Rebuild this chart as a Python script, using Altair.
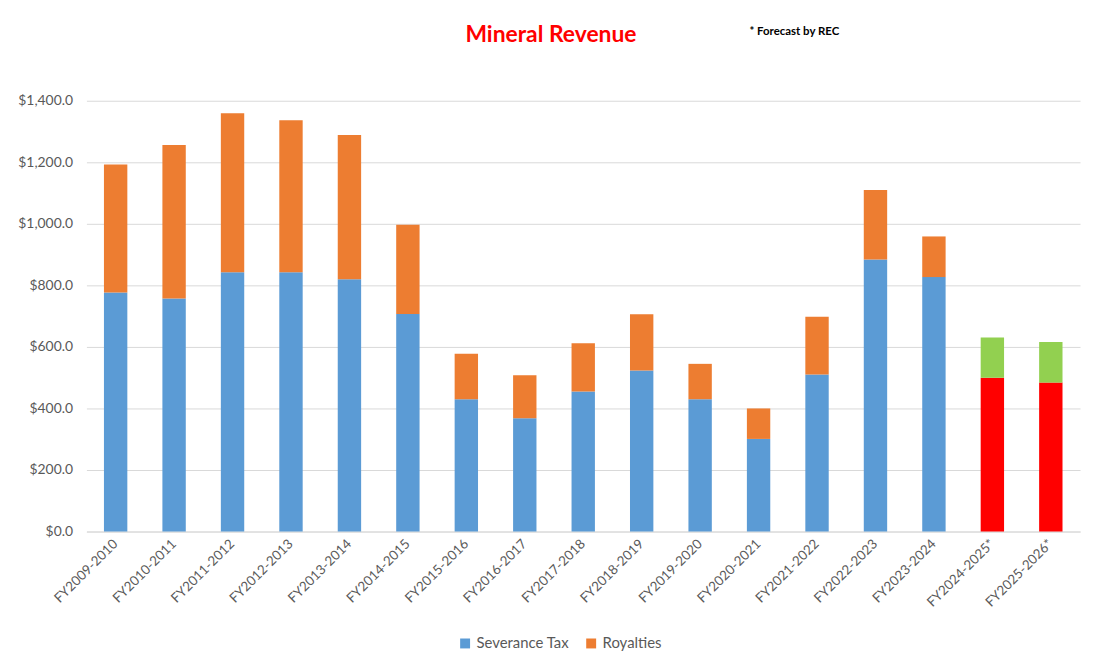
import altair as alt
import pandas as pd

years = ["FY2009-2010", "FY2010-2011", "FY2011-2012", "FY2012-2013", "FY2013-2014",
         "FY2014-2015", "FY2015-2016", "FY2016-2017", "FY2017-2018", "FY2018-2019",
         "FY2019-2020", "FY2020-2021", "FY2021-2022", "FY2022-2023", "FY2023-2024",
         "FY2024-2025*", "FY2025-2026*"]
severance = [777, 757, 843, 843, 820, 707, 430, 368, 455, 523, 430, 301, 510, 884, 827, 500, 484]
totals = [1193, 1256, 1359, 1337, 1289, 997, 578, 508, 612, 706, 545, 400, 698, 1110, 959, 631, 616]
forecast = [False] * 15 + [True, True]

series_names = ["Severance Tax", "Royalties", "Severance Forecast", "Royalties Forecast"]
series_colors = ["#5B9BD5", "#ED7D31", "#FF0000", "#92D050"]

rows = []
for y, s, t, f in zip(years, severance, totals, forecast):
    rows.append({"year": y, "series": "Severance Forecast" if f else "Severance Tax",
                 "value": s, "ord": 0})
    rows.append({"year": y, "series": "Royalties Forecast" if f else "Royalties",
                 "value": t - s, "ord": 1})
df = pd.DataFrame(rows)

FONT = "Lato"

bars = alt.Chart(df).mark_bar().encode(
    x=alt.X("year:N", sort=years, title=None,
            scale=alt.Scale(paddingInner=0.6, paddingOuter=0.3),
            axis=alt.Axis(labelAngle=-45, labelAlign="right", labelBaseline="middle",
                          labelFontSize=13.5, labelColor="#595959", labelFont=FONT,
                          ticks=False, domainColor="#d9d9d9", labelPadding=10, grid=False)),
    y=alt.Y("value:Q", stack="zero", title=None,
            scale=alt.Scale(domain=[0, 1400]),
            axis=alt.Axis(format="$,.1f", values=[0, 200, 400, 600, 800, 1000, 1200, 1400],
                          labelFontSize=14, labelColor="#595959", labelFont=FONT,
                          ticks=False, domain=False, gridColor="#d9d9d9", labelPadding=14)),
    color=alt.Color("series:N",
                    scale=alt.Scale(domain=series_names, range=series_colors),
                    legend=alt.Legend(values=["Severance Tax", "Royalties"], title=None,
                                      orient="none", direction="horizontal",
                                      legendX=374, legendY=539,
                                      symbolType="square", symbolSize=100,
                                      labelFontSize=15, labelColor="#595959",
                                      labelFont=FONT, columnPadding=14)),
    order=alt.Order("ord:Q"),
)

title_df = pd.DataFrame({"t": ["Mineral Revenue"]})
title = alt.Chart(title_df).mark_text(
    font=FONT, fontSize=23, fontWeight="bold", color="#FF0000", align="center",
    baseline="middle"
).encode(text="t:N", x=alt.value(468), y=alt.value(-66))

note_df = pd.DataFrame({"t": ["* Forecast by REC"]})
note = alt.Chart(note_df).mark_text(
    font=FONT, fontSize=11.5, fontWeight="bold", color="#000000", align="left",
    baseline="middle"
).encode(text="t:N", x=alt.value(668), y=alt.value(-69))

chart = alt.layer(bars, title, note).properties(
    width=1001, height=434,
    background="white",
    autosize=alt.AutoSizeParams(type="none"),
    padding={"left": 79, "top": 91, "right": 6, "bottom": 130},
).configure_view(stroke=None)

chart.save("out.html", embed_options={"renderer": "svg", "actions": False})
